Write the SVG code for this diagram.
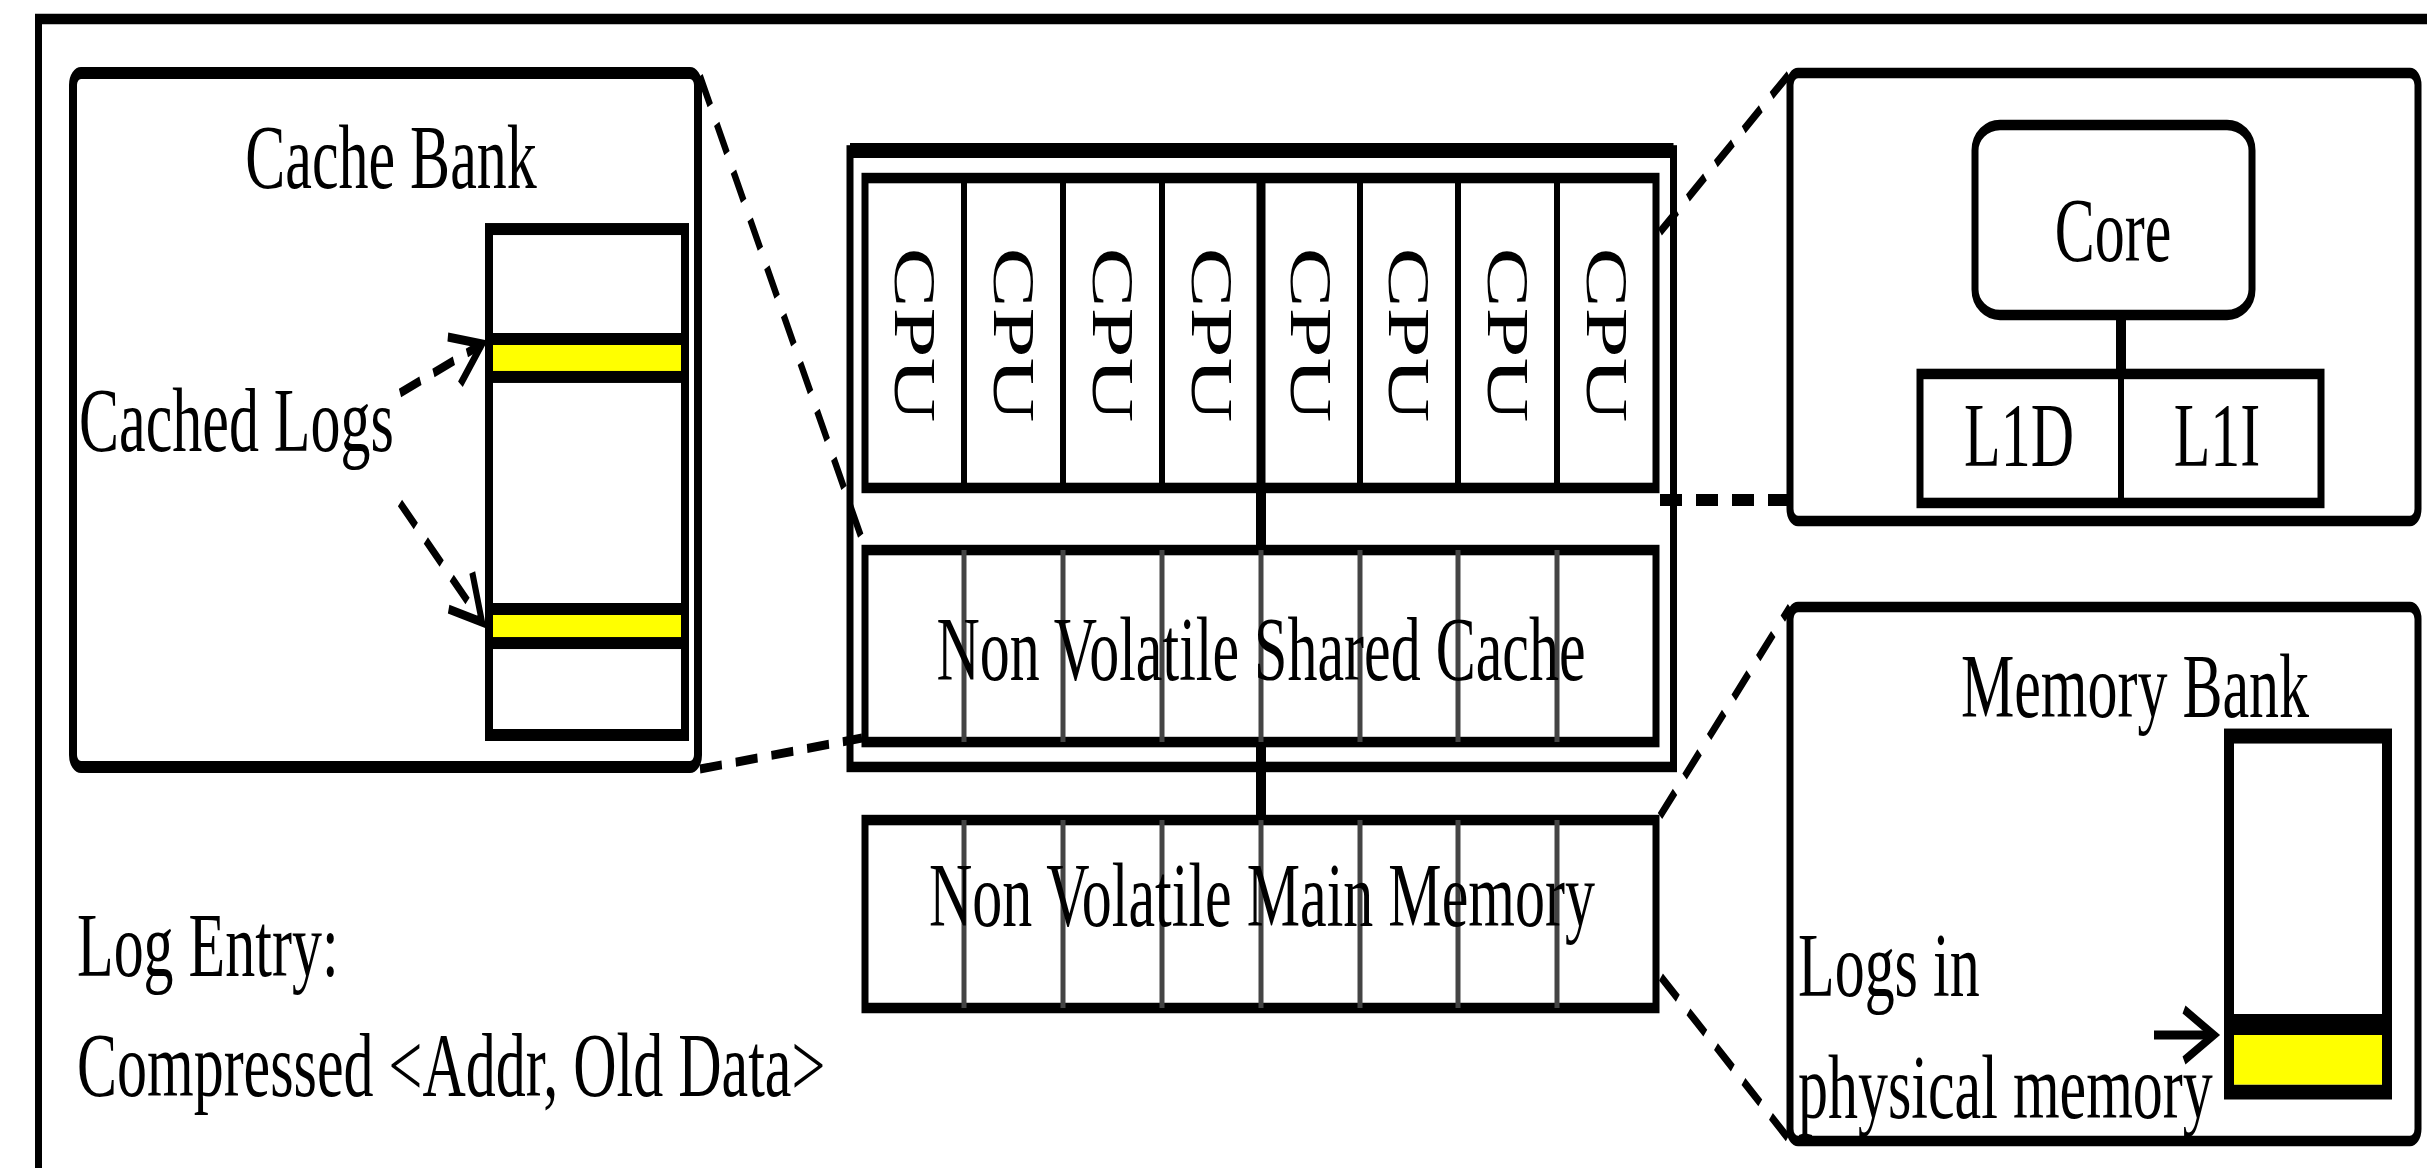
<svg xmlns="http://www.w3.org/2000/svg" width="2427" height="1168" viewBox="0 0 2427 1168">
  <style>
    .box { fill: #fff; stroke: #000; stroke-width: 7; }
    .thin { fill: none; stroke: #000; stroke-width: 6; }
    .div { stroke: #000; stroke-width: 6; }
    .gdiv { stroke: #444; stroke-width: 5; }
    .conn { stroke: #000; stroke-width: 10; }
    .dash { fill: none; stroke: #000; stroke-width: 6; stroke-dasharray: 22 14; }
    .t { font-family: "Liberation Serif", "Times New Roman", serif; font-size: 60px; fill: #000; }
    .m { text-anchor: middle; }
  </style>
  <defs>
    <marker id="ah" markerUnits="userSpaceOnUse" markerWidth="50" markerHeight="50" viewBox="-40 -25 50 50" refX="0" refY="0" orient="auto" overflow="visible">
      <path d="M-30,-17 L0,0 L-30,17" fill="none" stroke="#000" stroke-width="6"/>
    </marker>
  </defs>
  <rect width="2427" height="1168" fill="#fff"/>
  <g transform="scale(1,1.5)">
    <g id="frame">
      <path d="M38.5,778.7 V12.7 H2427" fill="none" stroke="#000" stroke-width="7"/>
    </g>

    <g id="cache-bank">
      <rect class="box" x="73" y="48.7" width="625" height="462.7" rx="8" style="stroke-width:8"/>
      <text class="t m" x="391" y="125.3">Cache Bank</text>
      <rect class="box" x="489" y="152.7" width="196" height="337.3" style="stroke-width:8"/>
      <rect x="489" y="226" width="196" height="25.3" fill="#ffff00" stroke="#000" stroke-width="8"/>
      <rect x="489" y="406" width="196" height="22.7" fill="#ffff00" stroke="#000" stroke-width="8"/>
      <text class="t" x="79" y="300.7">Cached Logs</text>
    </g>

    <g id="processor">
      <rect class="box" x="850" y="100.3" width="823.5" height="411"/>
      <line x1="850" y1="100.3" x2="1673.5" y2="100.3" stroke="#000" stroke-width="10"/>
    </g>

    <g id="cpus">
      <rect class="box" x="865" y="118.7" width="791" height="206.6"/>
      <line class="div" x1="964" y1="118.7" x2="964" y2="325.3"/>
      <line class="div" x1="1063" y1="118.7" x2="1063" y2="325.3"/>
      <line class="div" x1="1162" y1="118.7" x2="1162" y2="325.3"/>
      <line class="div" x1="1261" y1="118.7" x2="1261" y2="325.3" style="stroke-width:9"/>
      <line class="div" x1="1360" y1="118.7" x2="1360" y2="325.3"/>
      <line class="div" x1="1458" y1="118.7" x2="1458" y2="325.3"/>
      <line class="div" x1="1557" y1="118.7" x2="1557" y2="325.3"/>
      <text class="t m" transform="translate(894.5,223.3) rotate(90)">CPU</text>
      <text class="t m" transform="translate(993.5,223.3) rotate(90)">CPU</text>
      <text class="t m" transform="translate(1092.5,223.3) rotate(90)">CPU</text>
      <text class="t m" transform="translate(1191.5,223.3) rotate(90)">CPU</text>
      <text class="t m" transform="translate(1290.5,223.3) rotate(90)">CPU</text>
      <text class="t m" transform="translate(1389,223.3) rotate(90)">CPU</text>
      <text class="t m" transform="translate(1487.5,223.3) rotate(90)">CPU</text>
      <text class="t m" transform="translate(1586.5,223.3) rotate(90)">CPU</text>
    </g>

    <g id="shared-cache">
      <rect class="box" x="865" y="366.7" width="791" height="128"/>
      <line class="gdiv" x1="964" y1="366.7" x2="964" y2="494.7"/>
      <line class="gdiv" x1="1063" y1="366.7" x2="1063" y2="494.7"/>
      <line class="gdiv" x1="1162" y1="366.7" x2="1162" y2="494.7"/>
      <line class="gdiv" x1="1261" y1="366.7" x2="1261" y2="494.7"/>
      <line class="gdiv" x1="1360" y1="366.7" x2="1360" y2="494.7"/>
      <line class="gdiv" x1="1458" y1="366.7" x2="1458" y2="494.7"/>
      <line class="gdiv" x1="1557" y1="366.7" x2="1557" y2="494.7"/>
      <text class="t m" x="1261" y="453.3">Non Volatile Shared Cache</text>
    </g>

    <g id="main-memory">
      <rect class="box" x="865" y="546.7" width="791" height="125.3"/>
      <line class="gdiv" x1="964" y1="546.7" x2="964" y2="672"/>
      <line class="gdiv" x1="1063" y1="546.7" x2="1063" y2="672"/>
      <line class="gdiv" x1="1162" y1="546.7" x2="1162" y2="672"/>
      <line class="gdiv" x1="1261" y1="546.7" x2="1261" y2="672"/>
      <line class="gdiv" x1="1360" y1="546.7" x2="1360" y2="672"/>
      <line class="gdiv" x1="1458" y1="546.7" x2="1458" y2="672"/>
      <line class="gdiv" x1="1557" y1="546.7" x2="1557" y2="672"/>
      <text class="t m" x="1262" y="617.3">Non Volatile Main Memory</text>
    </g>

    <g id="core-detail">
      <rect class="box" x="1790" y="48.7" width="628" height="298.6" rx="8"/>
      <rect class="box" x="1975" y="83.3" width="277" height="126.7" rx="25" ry="17"/>
      <text class="t m" x="2113" y="174">Core</text>
      <line class="conn" x1="2121" y1="210" x2="2121" y2="249.3"/>
      <rect class="box" x="1920" y="249.3" width="401" height="86"/>
      <line class="div" x1="2121" y1="249.3" x2="2121" y2="335.3"/>
      <text class="t m" x="2019" y="310.7">L1D</text>
      <text class="t m" x="2217" y="310.7">L1I</text>
    </g>

    <g id="memory-bank">
      <rect class="box" x="1790" y="404.7" width="628" height="356" rx="8"/>
      <text class="t m" x="2135" y="478">Memory Bank</text>
      <rect x="2229" y="490.7" width="158" height="237.3" fill="#fff" stroke="#000" stroke-width="10"/>
      <rect x="2229" y="676" width="158" height="14" fill="#000"/>
      <rect x="2234" y="690" width="148" height="33" fill="#ffff00"/>
      <text class="t" x="1798" y="664">Logs in</text>
      <text class="t" x="1798" y="745.3">physical memory</text>
    </g>

    <g id="log-entry">
      <text class="t" x="77" y="650.7">Log Entry:</text>
      <text class="t" x="77" y="731">Compressed &lt;Addr, Old Data&gt;</text>
    </g>

    <g id="connectors">
      <line class="conn" x1="1261" y1="325.3" x2="1261" y2="366.7"/>
      <line class="conn" x1="1261" y1="494.7" x2="1261" y2="546.7"/>
      <line class="dash" x1="700" y1="50.7" x2="865" y2="365.3"/>
      <line class="dash" x1="700" y1="512.7" x2="862" y2="492"/>
      <line class="dash" x1="1660" y1="154.7" x2="1790" y2="48.7"/>
      <line class="dash" x1="1660" y1="333.3" x2="1790" y2="333.3" style="stroke-width:8"/>
      <line class="dash" x1="1660" y1="544" x2="1790" y2="404.7"/>
      <line class="dash" x1="1661" y1="651.3" x2="1788" y2="758.7"/>
      <line class="dash" x1="400" y1="262" x2="482" y2="229.3" marker-end="url(#ah)"/>
      <line class="dash" x1="400" y1="335.3" x2="482" y2="414.7" marker-end="url(#ah)"/>
      <line class="thin" x1="2154" y1="690" x2="2214" y2="690" marker-end="url(#ah)"/>
    </g>
  </g>
</svg>
